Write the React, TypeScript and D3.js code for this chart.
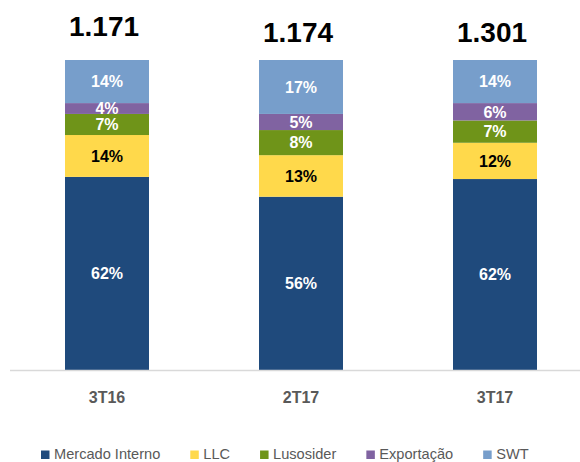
import * as d3 from 'd3';
import React, { useEffect, useRef } from 'react';

const periods = ['3T16', '2T17', '3T17'];
const totals = ['1.171', '1.174', '1.301'];
const seriesNames = ['Mercado Interno', 'LLC', 'Lusosider', 'Exportação', 'SWT'];
// shares in % (labels show them rounded)
const mercadoInterno = [62.3, 55.9, 61.6];
const llc = [13.5, 13.4, 11.7];
const lusosider = [6.8, 8.1, 7.2];
const exportacao = [3.5, 5.2, 5.6];
const swt = [13.9, 17.4, 13.9];

const colors = ['#1F4A7C', '#FFD94B', '#6F9419', '#8063A1', '#779ECB'];
const labelColors = ['#ffffff', '#000000', '#ffffff', '#ffffff', '#ffffff'];
const totalLabelY = [36, 42, 42]; // first label sits a little higher in the original

const FONT = '"Liberation Sans", Arial, sans-serif';

const App = () => {
    const svgRef = useRef<SVGSVGElement>(null);

    useEffect(() => {
        const svg = d3.select(svgRef.current);
        svg.selectAll('*').remove();

        const width = 580;
        const height = 462;

        const seriesValues = [mercadoInterno, llc, lusosider, exportacao, swt];
        const rows = periods.map((p, i) => {
            const row: any = { period: p };
            seriesNames.forEach((s, j) => { row[s] = seriesValues[j][i]; });
            return row;
        });

        const stack = d3.stack<any>()
            .keys(seriesNames)
            .offset(d3.stackOffsetExpand);
        const stacked = stack(rows);

        const x = d3.scaleBand()
            .domain(periods)
            .range([10, 592])
            .paddingInner(0.567)
            .paddingOuter(0.2835);

        const y = d3.scaleLinear()
            .domain([0, 1])
            .range([370, 60]);

        const g = svg.attr('width', width).attr('height', height)
            .style('font-family', FONT);

        // bars
        const layers = g.selectAll('g.layer')
            .data(stacked)
            .join('g')
            .attr('class', 'layer')
            .attr('fill', (d, i) => colors[i]);

        layers.selectAll('rect')
            .data(d => d.map(v => ({ v, key: d.key })))
            .join('rect')
            .attr('x', d => x(d.v.data.period)!)
            .attr('width', x.bandwidth())
            .attr('y', d => y(d.v[1]))
            .attr('height', d => y(d.v[0]) - y(d.v[1]));

        // segment labels
        stacked.forEach((layer, j) => {
            g.append('g')
                .selectAll('text')
                .data(layer)
                .join('text')
                .attr('x', d => x(d.data.period)! + x.bandwidth() / 2)
                .attr('y', d => (y(d[0]) + y(d[1])) / 2)
                .attr('dy', '0.36em')
                .attr('text-anchor', 'middle')
                .style('font-size', '16px')
                .style('font-weight', 'bold')
                .attr('fill', labelColors[j])
                .text(d => `${Math.round(d.data[layer.key])}%`);
        });

        // axis line
        g.append('line')
            .attr('x1', 10)
            .attr('x2', width)
            .attr('y1', 370.5)
            .attr('y2', 370.5)
            .attr('stroke', '#d9d9d9')
            .attr('stroke-width', 1.5);

        // category labels
        g.append('g')
            .selectAll('text')
            .data(periods)
            .join('text')
            .attr('x', d => x(d)! + x.bandwidth() / 2)
            .attr('y', 403)
            .attr('text-anchor', 'middle')
            .style('font-size', '16px')
            .style('font-weight', 'bold')
            .attr('fill', '#595959')
            .text(d => d);

        // totals
        g.append('g')
            .selectAll('text')
            .data(totals)
            .join('text')
            .attr('x', (d, i) => x(periods[i])! + x.bandwidth() / 2 - 3)
            .attr('y', (d, i) => totalLabelY[i])
            .attr('text-anchor', 'middle')
            .style('font-size', '28px')
            .style('font-weight', 'bold')
            .attr('fill', '#000000')
            .text(d => d);

        // legend
        const legend = g.append('g');
        let lx = 41;
        seriesNames.forEach((name, i) => {
            legend.append('rect')
                .attr('x', lx)
                .attr('y', 450.5)
                .attr('width', 8.5)
                .attr('height', 8.5)
                .attr('fill', colors[i]);
            const t = legend.append('text')
                .attr('x', lx + 13)
                .attr('y', 459)
                .style('font-size', '14.6px')
                .attr('fill', '#595959')
                .text(name);
            const w = (t.node() as SVGTextElement).getComputedTextLength();
            lx += 13 + w + 30;
        });
    }, []);

    return (
        <svg ref={svgRef} style={{ position: 'absolute', left: 0, top: 0, display: 'block' }}></svg>
    );
};

export default App;
